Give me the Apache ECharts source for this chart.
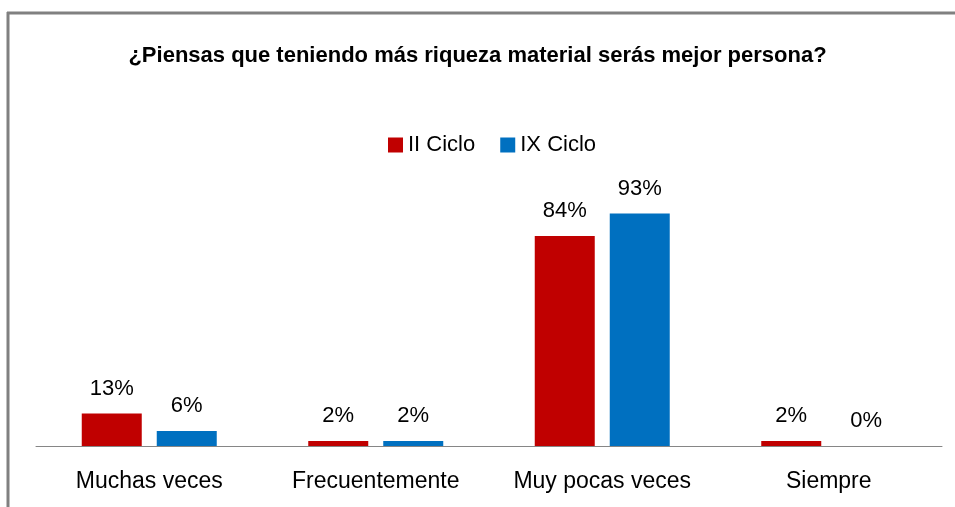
<!DOCTYPE html>
<html>
<head>
<meta charset="utf-8">
<script src="https://cdn.jsdelivr.net/npm/echarts@6/dist/echarts.min.js"></script>
<style>
html, body { margin: 0; padding: 0; background: #fff; }
#chart { width: 955px; height: 507px; }
</style>
</head>
<body>
<div id="chart"></div>
<script>
// datos
const categorias = ['Muchas veces', 'Frecuentemente', 'Muy pocas veces', 'Siempre'];
const cicloII = [13, 2, 84, 2];
const cicloIX = [6, 2, 93, 0];
const nombres = ['II Ciclo', 'IX Ciclo'];

const fuente = 'Liberation Sans';

const chart = echarts.init(document.getElementById('chart'));

const option = {
    backgroundColor: '#fff',
    animation: false,
    title: {
        text: '¿Piensas que teniendo más riqueza material serás mejor persona?',
        left: 'center',
        top: 40,
        textStyle: {
            fontFamily: fuente,
            fontSize: 22,
            fontWeight: 'bold',
            color: '#000'
        }
    },
    legend: {
        data: nombres,
        top: 129,
        left: 383,
        itemWidth: 15,
        itemHeight: 15,
        itemGap: 25,
        icon: 'rect',
        textStyle: {
            fontFamily: fuente,
            fontSize: 22,
            color: '#000'
        }
    },
    grid: {
        left: 36,
        right: 13,
        top: 196,
        bottom: 61,
        containLabel: false
    },
    xAxis: {
        type: 'category',
        data: categorias,
        axisLine: { lineStyle: { color: '#868686', width: 1 } },
        axisTick: { show: false },
        axisLabel: {
            fontFamily: fuente,
            fontSize: 23,
            color: '#000',
            margin: 24,
            interval: 0
        }
    },
    yAxis: {
        type: 'value',
        min: 0,
        max: 100,
        show: false,
        splitLine: { show: false }
    },
    series: [
        {
            name: nombres[0],
            type: 'bar',
            data: cicloII,
            barWidth: 60,
            barGap: '25%',
            itemStyle: { color: '#C00000' },
            label: {
                show: true,
                position: 'top',
                distance: 14,
                formatter: '{c}%',
                fontFamily: fuente,
                fontSize: 22,
                color: '#000'
            }
        },
        {
            name: nombres[1],
            type: 'bar',
            data: cicloIX,
            barWidth: 60,
            itemStyle: { color: '#0070C0' },
            label: {
                show: true,
                position: 'top',
                distance: 14,
                formatter: '{c}%',
                fontFamily: fuente,
                fontSize: 22,
                color: '#000'
            }
        }
    ],
    graphic: [
        {
            type: 'line',
            shape: { x1: 7, y1: 13, x2: 955, y2: 13 },
            style: { stroke: '#808080', lineWidth: 3 }
        },
        {
            type: 'line',
            shape: { x1: 8, y1: 12, x2: 8, y2: 507 },
            style: { stroke: '#808080', lineWidth: 3 }
        }
    ]
};

chart.setOption(option);
</script>
</body>
</html>
